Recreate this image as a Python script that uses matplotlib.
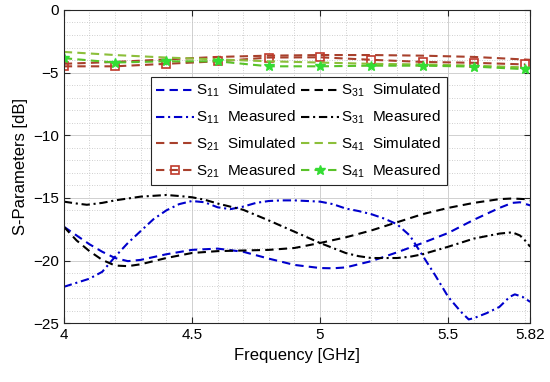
import numpy as np
import matplotlib
matplotlib.use("Agg")
from matplotlib import pyplot as plt
from matplotlib.ticker import MultipleLocator

plt.rcParams['font.family'] = ['Liberation Sans', 'DejaVu Sans']
plt.rcParams['mathtext.fontset'] = 'custom'
plt.rcParams['mathtext.rm'] = 'Liberation Sans'
plt.rcParams['mathtext.it'] = 'Liberation Sans'

# ---- data ----
f_s11_sim = [4.0, 4.05, 4.1, 4.15, 4.2, 4.25, 4.3, 4.4, 4.5, 4.6, 4.7, 4.8, 4.9,
             5.0, 5.05, 5.1, 5.2, 5.3, 5.4, 5.5, 5.6, 5.7, 5.75, 5.78, 5.82]
s11_sim = [-17.3, -18.0, -18.7, -19.3, -19.8, -20.05, -19.95, -19.5, -19.15, -19.05,
           -19.3, -19.85, -20.35, -20.6, -20.62, -20.55, -20.05, -19.35, -18.6,
           -17.8, -16.75, -15.8, -15.4, -15.35, -15.6]

f_s11_meas = [4.0, 4.1, 4.15, 4.2, 4.25, 4.3, 4.35, 4.4, 4.45, 4.5, 4.55, 4.6, 4.65,
              4.7, 4.75, 4.8, 4.85, 4.9, 4.95, 5.0, 5.05, 5.1, 5.15, 5.2, 5.25, 5.3,
              5.35, 5.4, 5.45, 5.5, 5.55, 5.58, 5.6, 5.65, 5.7, 5.74, 5.76, 5.79, 5.82]
s11_meas = [-22.1, -21.45, -20.9, -19.7, -18.6, -17.65, -16.7, -16.0, -15.5, -15.25,
            -15.35, -15.75, -15.9, -15.7, -15.4, -15.25, -15.2, -15.2, -15.25, -15.3,
            -15.5, -15.85, -16.05, -16.3, -16.65, -17.1, -18.0, -19.6, -21.2, -22.9,
            -24.1, -24.7, -24.6, -24.2, -23.7, -22.9, -22.7, -22.9, -23.3]

f_s31_sim = [4.0, 4.05, 4.1, 4.15, 4.2, 4.25, 4.3, 4.35, 4.4, 4.5, 4.6, 4.7, 4.8,
             4.9, 5.0, 5.1, 5.2, 5.3, 5.4, 5.5, 5.6, 5.7, 5.75, 5.8, 5.82]
s31_sim = [-17.3, -18.4, -19.25, -19.95, -20.4, -20.45, -20.3, -20.05, -19.8, -19.4,
           -19.25, -19.2, -19.15, -19.0, -18.6, -18.15, -17.6, -16.95, -16.3, -15.8,
           -15.4, -15.1, -15.05, -15.1, -15.2]

f_s31_meas = [4.0, 4.05, 4.09, 4.15, 4.2, 4.25, 4.3, 4.4, 4.45, 4.5, 4.55, 4.6, 4.7,
              4.8, 4.9, 5.0, 5.1, 5.15, 5.2, 5.3, 5.35, 5.4, 5.5, 5.6, 5.7, 5.75,
              5.78, 5.8, 5.82]
s31_meas = [-15.3, -15.45, -15.55, -15.4, -15.2, -15.05, -14.9, -14.77, -14.85,
            -14.95, -15.15, -15.45, -15.95, -16.8, -17.7, -18.6, -19.4, -19.65,
            -19.8, -19.8, -19.7, -19.5, -18.9, -18.25, -17.85, -17.75, -18.0,
            -18.4, -18.9]

f_top_sim = [4.0, 4.2, 4.4, 4.6, 4.8, 5.0, 5.2, 5.4, 5.6, 5.82]
s21_sim = [-4.3, -4.15, -3.95, -3.75, -3.65, -3.6, -3.6, -3.65, -3.75, -3.98]
s41_sim = [-3.35, -3.6, -3.8, -3.95, -4.1, -4.2, -4.3, -4.35, -4.45, -4.6]

f_top_meas = [4.0, 4.2, 4.4, 4.6, 4.8, 5.0, 5.2, 5.4, 5.6, 5.8]
s21_meas = [-4.5, -4.5, -4.3, -4.1, -3.8, -3.78, -3.98, -4.15, -4.22, -4.35]
s41_meas = [-3.85, -4.2, -4.1, -4.1, -4.5, -4.5, -4.45, -4.45, -4.52, -4.73]

x_ticks = [4, 4.5, 5, 5.5, 5.82]
x_ticklabels = ['4', '4.5', '5', '5.5', '5.82']
y_ticks = [0, -5, -10, -15, -20, -25]

if __name__ == '__main__':
    fig = plt.figure(figsize=(5.5, 3.82), dpi=100)
    ax = fig.add_axes([0.116, 0.154, 0.848, 0.820])

    dash = (0, (4, 2.5))
    dashdot = (0, (4, 1.8, 1, 1.8))
    lw = 1.5
    blue = '#0000cc'
    red = '#a8402c'
    green_sim = '#8cbf3a'
    green_meas = '#59c229'

    ax.plot(f_s11_sim, s11_sim, color=blue, ls=dash, lw=lw, label=r'S$_{11}$  Simulated')
    ax.plot(f_s11_meas, s11_meas, color=blue, ls=dashdot, lw=lw, label=r'S$_{11}$  Measured')
    ax.plot(f_top_sim, s21_sim, color=red, ls=dash, lw=lw, label=r'S$_{21}$  Simulated')
    ax.plot(f_top_meas, s21_meas, color=red, ls=dash, lw=lw, marker='s', ms=6,
            mfc='none', mec='#c0392b', mew=1.2, label=r'S$_{21}$  Measured')
    ax.plot(f_s31_sim, s31_sim, color='black', ls=dash, lw=lw, label=r'S$_{31}$  Simulated')
    ax.plot(f_s31_meas, s31_meas, color='black', ls=dashdot, lw=lw, label=r'S$_{31}$  Measured')
    ax.plot(f_top_sim, s41_sim, color=green_sim, ls=dash, lw=lw, label=r'S$_{41}$  Simulated')
    ax.plot(f_top_meas, s41_meas, color=green_meas, ls=dash, lw=lw, marker='*', ms=7,
            mfc='#33dd33', mec='#33dd33', label=r'S$_{41}$  Measured')

    ax.set_xlim(4, 5.82)
    ax.set_ylim(-25, 0)
    ax.set_xticks(x_ticks)
    ax.set_xticklabels(x_ticklabels)
    ax.set_yticks(y_ticks)
    ax.xaxis.set_minor_locator(MultipleLocator(0.1))
    ax.yaxis.set_minor_locator(MultipleLocator(1))
    ax.grid(which='major', color='#d0d0d0', lw=0.7, ls='-')
    ax.grid(which='minor', color='#c0c0c0', lw=0.6, ls=(0, (1, 2)))
    ax.set_axisbelow(True)
    ax.tick_params(which='major', direction='in', length=4, top=True, right=True,
                   labelsize=11, color='#262626')
    ax.tick_params(which='minor', length=0)
    for s in ax.spines.values():
        s.set_color('#262626')
        s.set_linewidth(0.8)

    ax.set_xlabel('Frequency [GHz]', fontsize=12)
    ax.set_ylabel('S-Parameters [dB]', fontsize=12)

    leg = ax.legend(ncol=2, loc='upper left', bbox_to_anchor=(0.186, 0.787),
                    borderaxespad=0, fontsize=11, handlelength=2.5,
                    handletextpad=0.15, columnspacing=0.3, labelspacing=0.62,
                    borderpad=0.35, fancybox=False, framealpha=1)
    leg.get_frame().set_edgecolor('#262626')
    leg.get_frame().set_linewidth(0.8)

    fig.savefig('out.png', dpi=100)
